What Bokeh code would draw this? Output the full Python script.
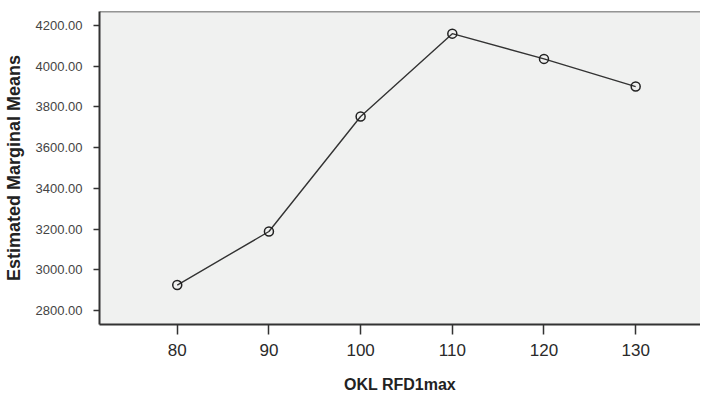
from bokeh.plotting import figure
from bokeh.models import Range1d, FixedTicker, Span, NumeralTickFormatter
from bokeh.embed import file_html
from bokeh.resources import INLINE

# Data
rfd_levels = [80, 90, 100, 110, 120, 130]
marginal_means = [2925, 3188, 3753, 4160, 4036, 3900]
y_ticks = [2800, 3000, 3200, 3400, 3600, 3800, 4000, 4200]
x_ticks = [80, 90, 100, 110, 120, 130]

FONT = "Liberation Sans"
DARK = "#333333"

p = figure(width=700, height=398, output_backend="svg", toolbar_location=None,
           x_range=Range1d(71.52, 137.07), y_range=Range1d(2731.2, 4268.8),
           min_border_left=97, min_border_right=0, min_border_top=11, min_border_bottom=74)

p.background_fill_color = "#f0f1f0"
p.border_fill_color = "white"
p.outline_line_color = None
p.xgrid.visible = False
p.ygrid.visible = False

p.add_layout(Span(location=4268.8, dimension="width", line_color=DARK, line_width=1.5))

p.line(rfd_levels, marginal_means, line_color=DARK, line_width=1.4)
p.scatter(rfd_levels, marginal_means, marker="circle", size=9, fill_color=None,
          line_color="#222222", line_width=1.5)

# x axis
xa = p.xaxis[0]
xa.ticker = FixedTicker(ticks=x_ticks)
xa.minor_tick_line_color = None
xa.major_tick_in = 0
xa.major_tick_out = 10
xa.major_tick_line_color = DARK
xa.major_tick_line_width = 1.5
xa.axis_line_color = DARK
xa.axis_line_width = 2
xa.major_label_text_font = FONT
xa.major_label_text_font_size = "17px"
xa.major_label_text_color = "#2a2a2a"
xa.major_label_standoff = 9
xa.axis_label = "OKL RFD1max"
xa.axis_label_text_font = FONT
xa.axis_label_text_font_style = "bold"
xa.axis_label_text_font_size = "16px"
xa.axis_label_text_color = "#222222"
xa.axis_label_standoff = 17

# y axis
ya = p.yaxis[0]
ya.ticker = FixedTicker(ticks=y_ticks)
ya.formatter = NumeralTickFormatter(format="0.00")
ya.minor_tick_line_color = None
ya.major_tick_in = 0
ya.major_tick_out = 6
ya.major_tick_line_color = DARK
ya.major_tick_line_width = 1.5
ya.axis_line_color = DARK
ya.axis_line_width = 2
ya.major_label_text_font = FONT
ya.major_label_text_font_size = "13px"
ya.major_label_text_color = "#444444"
ya.major_label_standoff = 11
ya.axis_label = "Estimated Marginal Means"
ya.axis_label_text_font = FONT
ya.axis_label_text_font_style = "bold"
ya.axis_label_text_font_size = "18px"
ya.axis_label_text_color = "#222222"
ya.axis_label_standoff = 9

open("out.html", "w").write(file_html(p, INLINE))
